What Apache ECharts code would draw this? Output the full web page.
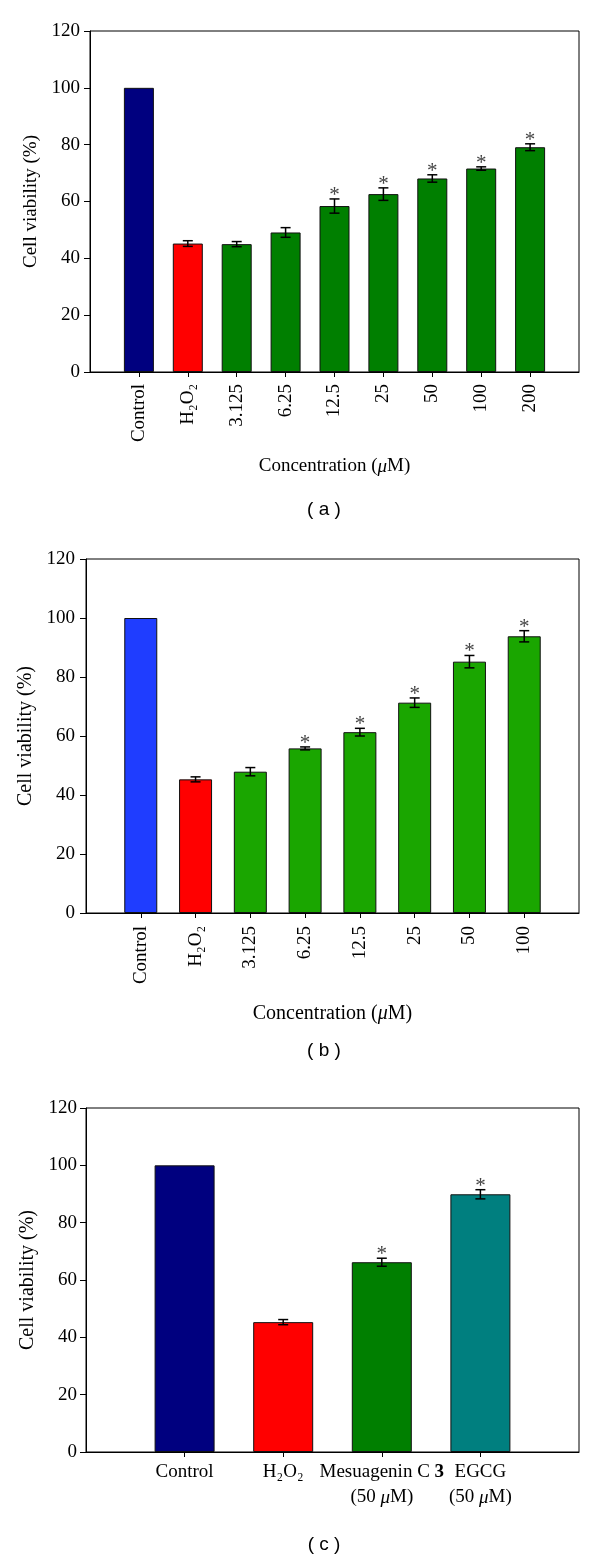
<!DOCTYPE html>
<html><head><meta charset="utf-8">
<script src="https://cdn.jsdelivr.net/npm/echarts@6/dist/echarts.min.js"></script>
<style>html,body{margin:0;padding:0;background:#fff}#c{width:600px;height:1560px}</style>
</head><body><div id="c"></div>
<script>
// ---- Panel (a) ----
const catsA = ['Control', 'H₂O₂', '3.125', '6.25', '12.5', '25', '50', '100', '200'];
const valsA = [100, 45.2, 45.0, 49.1, 58.4, 62.6, 68.1, 71.6, 79.1];
const errA  = [0, 1.0, 0.9, 1.7, 2.5, 2.2, 1.3, 0.6, 1.2];
const sigA  = [0, 0, 0, 0, 1, 1, 1, 1, 1];
// ---- Panel (b) ----
const catsB = ['Control', 'H₂O₂', '3.125', '6.25', '12.5', '25', '50', '100'];
const valsB = [100, 45.3, 47.9, 55.8, 61.3, 71.3, 85.2, 93.8];
const errB  = [0, 0.85, 1.4, 0.5, 1.3, 1.6, 2.1, 1.9];
const sigB  = [0, 0, 0, 1, 1, 1, 1, 1];
// ---- Panel (c) ----
const catsC = ['Control', 'H₂O₂', 'Mesuagenin C 3', 'EGCG'];
const doseC = ['', '', '(50 μM)', '(50 μM)'];
const valsC = [100, 45.3, 66.2, 89.9];
const errC  = [0, 0.9, 1.4, 1.6];
const sigC  = [0, 0, 1, 1];

// styles (kept apart from data)
const colA = ['#00007f', '#ff0000', '#007f00', '#007f00', '#007f00', '#007f00', '#007f00', '#007f00', '#007f00'];
const colB = ['#1f3dff', '#ff0000', '#1aa600', '#1aa600', '#1aa600', '#1aa600', '#1aa600', '#1aa600'];
const colC = ['#00007f', '#ff0000', '#007f00', '#007f7f'];
const SERIF = '"Liberation Serif", "DejaVu Serif", serif';

const grids = [], xAxes = [], yAxes = [], series = [];

function fmtLabel(cats, dose) {
  return function (v) {
    const i = Math.round(v) - 1;
    if (i < 0 || i >= cats.length) return '';
    let s = cats[i];
    if (s === 'Mesuagenin C 3') s = 'Mesuagenin C {b|3}';
    if (dose && dose[i]) s += '\n' + dose[i].replace('μ', '{i|μ}');
    return s;
  };
}

function panel(idx, cats, vals, errs, sigs, cols, cfg) {
  const n = cats.length;
  const ticks = cats.map((_, i) => i + 1);
  grids.push({ left: cfg.left, top: cfg.top, width: cfg.width, height: cfg.height,
    show: true, borderColor: '#000', borderWidth: 1, backgroundColor: 'transparent' });
  const rich = {
    b: { fontWeight: 'bold', fontFamily: SERIF, fontSize: cfg.fs, color: '#000' },
    i: { fontStyle: 'italic', fontFamily: SERIF, fontSize: cfg.fs, color: '#000' }
  };
  xAxes.push({
    gridIndex: idx, type: 'value', min: 0, max: n + 1, interval: 1,
    axisLine: { show: true, onZero: false, lineStyle: { color: '#000', width: 1 } },
    axisTick: { show: true, customValues: ticks, length: 5, lineStyle: { color: '#000' } },
    axisLabel: { customValues: ticks, formatter: fmtLabel(cats, cfg.dose), rotate: cfg.rotate,
      margin: cfg.xMargin, fontFamily: SERIF, fontSize: cfg.fs, color: '#000',
      lineHeight: cfg.lh || cfg.fs * 1.2, rich },
    splitLine: { show: false },
    name: cfg.xName || '', nameLocation: 'middle', nameGap: cfg.xNameGap || 0,
    nameTextStyle: { fontFamily: SERIF, fontSize: cfg.fsName, color: '#000',
      rich: { i: { fontStyle: 'italic', fontFamily: SERIF, fontSize: cfg.fsName, color: '#000' } } }
  });
  yAxes.push({
    gridIndex: idx, type: 'value', min: 0, max: 120, interval: 20,
    axisLine: { show: true, lineStyle: { color: '#000', width: 1 } },
    axisTick: { show: true, length: 6, lineStyle: { color: '#000' } },
    axisLabel: { margin: cfg.yMargin, fontFamily: SERIF, fontSize: cfg.fs, color: '#000' },
    splitLine: { show: false },
    name: 'Cell viability (%)', nameLocation: 'middle', nameGap: cfg.yNameGap,
    nameTextStyle: { fontFamily: SERIF, fontSize: cfg.fsName, color: '#000' }
  });
  series.push({
    type: 'bar', xAxisIndex: idx, yAxisIndex: idx, barWidth: cfg.barWidth,
    itemStyle: { borderColor: '#111', borderWidth: 1 },
    data: vals.map((v, i) => ({ value: [i + 1, v], itemStyle: { color: cols[i] } }))
  });
  series.push({
    type: 'custom', xAxisIndex: idx, yAxisIndex: idx, z: 5,
    data: vals.map((v, i) => [i + 1, v, errs[i], sigs[i]]),
    renderItem: function (params, api) {
      const x = api.value(0), m = api.value(1), e = api.value(2), s = api.value(3);
      const top = api.coord([x, m + e]), bot = api.coord([x, m - e]);
      const hw = 5, ls = { stroke: '#000', lineWidth: 1.5 };
      const ch = [];
      if (e > 0) {
        ch.push({ type: 'line', shape: { x1: top[0], y1: top[1], x2: bot[0], y2: bot[1] }, style: ls });
        ch.push({ type: 'line', shape: { x1: top[0] - hw, y1: top[1], x2: top[0] + hw, y2: top[1] }, style: ls });
        ch.push({ type: 'line', shape: { x1: bot[0] - hw, y1: bot[1], x2: bot[0] + hw, y2: bot[1] }, style: ls });
      }
      if (s) {
        ch.push({ type: 'text', x: top[0], y: top[1] + 7,
          style: { text: '*', fontSize: 21, fontFamily: SERIF, fill: '#444',
            align: 'center', verticalAlign: 'bottom' } });
      }
      return { type: 'group', children: ch };
    }
  });
}

panel(0, catsA, valsA, errA, sigA, colA, {
  left: 90, top: 31, width: 489, height: 341, fs: 19, fsName: 19, rotate: 90, xMargin: 12,
  yMargin: 10, barWidth: 30, xName: 'Concentration ({i|μ}M)', xNameGap: 85, yNameGap: 49
});
panel(1, catsB, valsB, errB, sigB, colB, {
  left: 86, top: 559, width: 493, height: 354, fs: 19, fsName: 20, rotate: 90, xMargin: 13,
  yMargin: 11, barWidth: 33, xName: 'Concentration ({i|μ}M)', xNameGap: 91, yNameGap: 45
});
panel(2, catsC, valsC, errC, sigC, colC, {
  left: 86, top: 1108, width: 493, height: 344, fs: 19, fsName: 20, rotate: 0, xMargin: 8,
  yMargin: 9, barWidth: 60, yNameGap: 45, dose: doseC, lh: 25
});

const chart = echarts.init(document.getElementById('c'), null, { renderer: 'canvas' });
chart.setOption({
  animation: false,
  backgroundColor: '#fff',
  grid: grids, xAxis: xAxes, yAxis: yAxes, series: series,
  graphic: [
    { type: 'text', x: 324, y: 510, style: { text: '( a )', font: '19px "Liberation Sans", Arial, sans-serif', fill: '#000', textAlign: 'center', textVerticalAlign: 'middle' } },
    { type: 'text', x: 324, y: 1051, style: { text: '( b )', font: '19px "Liberation Sans", Arial, sans-serif', fill: '#000', textAlign: 'center', textVerticalAlign: 'middle' } },
    { type: 'text', x: 324, y: 1545, style: { text: '( c )', font: '19px "Liberation Sans", Arial, sans-serif', fill: '#000', textAlign: 'center', textVerticalAlign: 'middle' } }
  ]
});
</script></body></html>
